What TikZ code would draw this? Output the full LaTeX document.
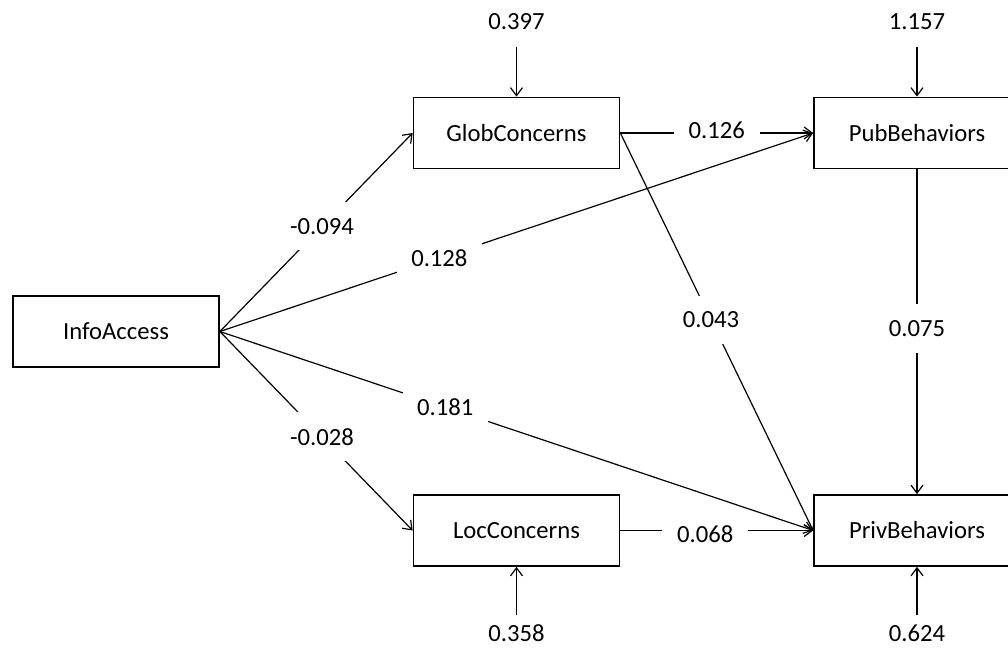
\documentclass[tikz,border=0pt]{standalone}
\usepackage{fontspec}
\setmainfont{Carlito}
\usetikzlibrary{arrows.meta}
\tikzset{
  box/.style={draw, line width=1.3pt, inner sep=0pt, minimum width=154.5pt, minimum height=53.25pt, font=\fontsize{18.5pt}{22pt}\selectfont},
  conn/.style={line width=0.9pt, -{Straight Barb[length=6pt,width=9pt,line width=0.9pt]}},
  lbl/.style={fill=white, inner xsep=11pt, inner ysep=12pt, font=\fontsize{18.5pt}{22pt}\selectfont},
  res/.style={inner xsep=2pt, inner ysep=12.8pt, text height=0.63em, text depth=0pt, font=\fontsize{18.5pt}{22pt}\selectfont}
}
\begin{document}
\begin{tikzpicture}[x=0.75pt, y=-0.75pt]
\useasboundingbox (0,0) rectangle (1008,650);
\node[box] (info) at (116,331.5) {InfoAccess};
\node[box] (glob) at (516.5,133) {GlobConcerns};
\node[box] (loc) at (516.5,530.5) {LocConcerns};
\node[box] (pub) at (917,133) {PubBehaviors};
\node[box] (priv) at (917,530.5) {PrivBehaviors};

\node[res] (rglob) at (516.5,25) {0.397};
\node[res] (rpub) at (917,25) {1.157};
\node[res] (rloc) at (516.5,637) {0.358};
\node[res] (rpriv) at (917,637) {0.624};

\draw[conn] (rglob) -- (glob);
\draw[conn] (rpub) -- (pub);
\draw[conn] (rloc) -- (loc);
\draw[conn] (rpriv) -- (priv);

\draw[conn] (glob.east) -- node[lbl, pos=0.5, yshift=2pt] (l6) {0.126} (pub.west);
\draw[conn] (pub.south) -- node[lbl, pos=0.49] (l7) {0.075} (priv.north);
\draw[conn] (loc.east) -- node[lbl, pos=0.44, yshift=-3pt] (l8) {0.068} (priv.west);
\draw[conn] (info.east) -- node[lbl, pos=0.53] (l1) {-0.094} (glob.west);
\draw[conn] (info.east) -- node[lbl, pos=0.53] (l4) {-0.028} (loc.west);
\draw[conn] (info.east) -- node[lbl, pos=0.38] (l3) {0.181} (priv.west);
\draw[conn] (glob.east) -- node[lbl, pos=0.47] (l5) {0.043} (priv.west);
\draw[conn] (info.east) -- node[lbl, pos=0.37] (l2) {0.128} (pub.west);
\end{tikzpicture}
\end{document}
